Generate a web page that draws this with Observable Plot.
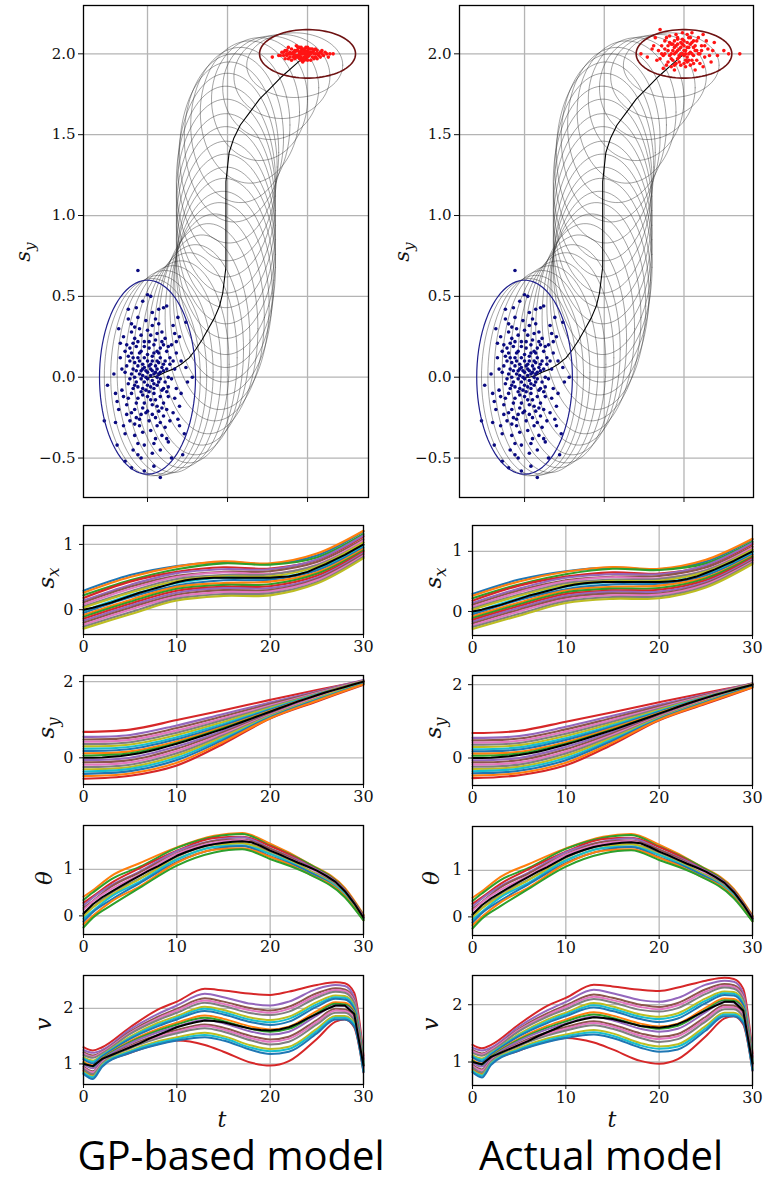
<!DOCTYPE html>
<html><head><meta charset="utf-8">
<script src="https://cdn.jsdelivr.net/npm/d3@7"></script>
<script src="https://cdn.jsdelivr.net/npm/@observablehq/plot@0.6"></script>
<style>
body{margin:0;background:#fff;}
#root{position:relative;width:771px;height:1182px;overflow:hidden;background:#fff;}
.lab{position:absolute;font-family:"DejaVu Serif","Liberation Serif",serif;font-style:italic;white-space:nowrap;line-height:1;color:#111;}
.lab span{font-size:0.72em;position:relative;top:0.3em;}
.cap{position:absolute;font-family:"Open Sans",sans-serif;font-size:40px;line-height:40px;white-space:nowrap;color:#000;transform:translateX(-50%);}
</style></head><body><div id="root"></div>
<script>
// ---------- data ----------
const tFull = d3.range(0, 31);
const sxMean = [0.00,0.03,0.07,0.11,0.16,0.21,0.26,0.30,0.34,0.38,0.42,0.45,0.47,0.48,0.49,0.49,0.49,0.49,0.49,0.49,0.49,0.50,0.51,0.54,0.58,0.64,0.70,0.77,0.84,0.92,1.00];
const syMean = [0.00,0.00,0.01,0.03,0.05,0.08,0.12,0.17,0.23,0.30,0.37,0.44,0.52,0.60,0.68,0.76,0.85,0.94,1.03,1.12,1.21,1.30,1.39,1.48,1.56,1.64,1.72,1.79,1.86,1.93,2.00];
const thetaMean = [0.05,0.25,0.40,0.52,0.64,0.75,0.86,0.97,1.07,1.18,1.29,1.37,1.44,1.50,1.54,1.57,1.59,1.60,1.58,1.50,1.40,1.32,1.23,1.14,1.06,0.97,0.86,0.73,0.53,0.27,-0.04];
const vMean = [1.00,0.96,1.09,1.16,1.23,1.30,1.37,1.45,1.52,1.59,1.66,1.71,1.75,1.78,1.77,1.75,1.71,1.67,1.63,1.61,1.60,1.62,1.66,1.73,1.82,1.90,1.98,2.05,2.05,1.90,0.97];
const ellRx = [0.30,0.30,0.30,0.30,0.30,0.30,0.30,0.30,0.30,0.31,0.31,0.31,0.31,0.31,0.31,0.31,0.31,0.31,0.31,0.31,0.31,0.31,0.31,0.31,0.31,0.31,0.30,0.30,0.30,0.30,0.30];
const ellRy = [0.60,0.61,0.62,0.63,0.64,0.64,0.65,0.65,0.65,0.65,0.64,0.64,0.63,0.63,0.62,0.62,0.61,0.61,0.60,0.60,0.59,0.58,0.56,0.52,0.48,0.44,0.38,0.32,0.26,0.20,0.15];

const startPts = [[-0.06,0.66],[-0.27,-0.27],[0.08,-0.62],[0.28,0.0],[-0.25,-0.05],[0.22,-0.48],[-0.19,-0.42],[0.24,0.34],[0.0,0.51],[0.02,0.50],[-0.03,0.47],[0.1,0.43],[0.12,0.44],[0.07,0.42],[-0.12,0.36],[-0.1,0.33],[0.19,0.37],[0.17,0.27],[0.2,0.25],[-0.17,0.12],[-0.2,-0.1],[-0.21,0.02],[0.24,0.06],[0.25,-0.03],[0.21,-0.1],[0.2,-0.3],[0.23,-0.35],[-0.14,-0.52],[-0.1,-0.56],[-0.02,-0.58],[0.04,-0.55],[0.15,-0.5],[-0.06,-0.48],[0.13,-0.4],[-0.15,-0.3],[-0.18,-0.2],[0.16,-0.22],
[-0.1,0.28],[-0.08,0.24],[-0.05,0.3],[0.03,0.32],[0.06,0.27],[0.09,0.22],[-0.13,0.2],[-0.07,0.19],[-0.02,0.22],[0.01,0.18],[0.04,0.15],[0.08,0.12],[0.12,0.16],[0.14,0.08],[-0.11,0.1],[-0.06,0.12],[-0.03,0.08],[0.0,0.1],[0.02,0.05],[0.05,0.07],[0.07,0.02],[0.1,0.04],[-0.14,0.03],[-0.09,0.05],[-0.05,0.02],[-0.01,0.0],[0.03,-0.02],[0.06,-0.05],[0.11,-0.03],[0.15,-0.01],[-0.12,-0.04],[-0.07,-0.03],[-0.03,-0.07],[0.0,-0.05],[0.04,-0.1],[0.09,-0.08],[0.13,-0.12],[-0.1,-0.1],[-0.06,-0.13],[-0.02,-0.16],[0.02,-0.14],[0.06,-0.18],[0.1,-0.16],[-0.13,-0.17],[-0.08,-0.2],[-0.04,-0.23],[0.0,-0.21],[0.05,-0.25],[0.08,-0.28],[-0.11,-0.27],[-0.05,-0.3],[0.02,-0.33],[0.11,-0.31],[-0.08,-0.36],[0.05,-0.38],[-0.02,-0.42],[0.08,-0.45],[0.0,0.03],[0.01,0.07],[-0.02,0.12],[0.03,0.1],[0.06,0.0],[-0.04,-0.01],[0.01,-0.09],[-0.08,0.0],[0.04,0.2],[-0.04,0.16],[0.08,0.18],[-0.1,0.15],[0.11,0.1],[0.02,0.26],[-0.06,0.37],[0.05,0.36],[0.15,0.2],[-0.15,0.25],[0.17,0.05],[0.18,-0.07],[-0.16,-0.08],[0.14,-0.27],[-0.12,0.42],[0.09,-0.36],[-0.04,-0.5],[0.03,-0.47],[0.06,0.05],[-0.01,0.04],[0.04,-0.04],[-0.06,0.07],[0.07,0.09],[-0.03,-0.11],[0.09,0.28],[-0.09,-0.45],[0.12,-0.2],[0.18,0.15],[-0.18,0.3],[0.16,0.32],[-0.14,0.16],[0.2,-0.18],[-0.2,-0.28],[0.13,0.0],[-0.07,-0.25],
[-0.09,0.21],[-0.04,0.26],[0.0,0.29],[0.05,0.23],[0.1,0.2],[-0.12,0.13],[-0.08,0.09],[-0.05,0.15],[0.0,0.14],[0.03,0.13],[0.07,0.15],[0.1,0.08],[-0.13,0.07],[-0.1,0.02],[-0.07,0.04],[-0.03,0.05],[0.02,0.01],[0.05,0.03],[0.08,-0.01],[0.12,0.05],[-0.11,-0.01],[-0.06,-0.06],[-0.02,-0.03],[0.02,-0.06],[0.07,-0.03],[0.1,-0.07],[-0.09,-0.07],[-0.04,-0.09],[0.0,-0.12],[0.04,-0.07],[0.08,-0.12],[-0.12,-0.13],[-0.07,-0.16],[-0.03,-0.19],[0.03,-0.17],[0.07,-0.21],[-0.1,-0.22],[-0.05,-0.26],[0.01,-0.27],[0.06,-0.3],[-0.03,-0.34],[0.04,-0.41],[-0.06,-0.41],[0.1,-0.24],[0.13,-0.06],[0.14,0.12],[0.11,0.24],[-0.01,0.35],[-0.08,0.31],[0.07,0.33],[0.03,0.4],[-0.07,0.43],[-0.16,0.05],[-0.15,-0.12],[-0.13,-0.23],[0.17,-0.13],[0.16,0.1],[-0.02,0.19],[0.01,0.22],[-0.05,0.1],[0.04,0.02],[-0.03,0.01],[0.09,0.06],[-0.08,-0.05],[0.05,-0.14],[-0.01,-0.08],[0.06,0.1],[-0.06,0.22],[0.12,-0.09],[0.02,0.08],[-0.04,0.04],[0.0,-0.01],[0.03,0.04],[-0.02,0.06],[0.08,0.03],[-0.09,0.12],[0.06,0.16],[-0.11,0.18],[0.13,0.19],[-0.01,-0.22],[0.09,-0.19],[-0.08,-0.29],[0.03,-0.23],[-0.14,-0.35],[0.12,-0.38],[0.18,0.22],[-0.17,0.21],[0.21,0.1],[-0.19,-0.15],[0.19,-0.26]];

const endPtsGP = [[0.78,1.98],[0.82,1.99],[0.84,2.01],[0.86,1.97],[0.87,2.02],[0.88,2.0],[0.89,1.98],[0.9,2.03],[0.91,2.0],[0.92,1.97],[0.93,2.02],[0.94,1.99],[0.95,2.01],[0.96,1.98],[0.97,2.03],[0.98,2.0],[0.99,1.97],[1.0,2.02],[1.01,1.99],[1.02,2.01],[1.03,1.98],[1.04,2.02],[1.05,2.0],[1.06,1.97],[1.08,2.01],[1.1,1.99],[1.12,2.0],[1.16,2.0],[0.85,1.99],[0.88,2.04],[0.9,1.96],[0.92,2.01],[0.93,1.99],[0.95,2.04],[0.96,1.96],[0.97,2.0],[0.98,2.02],[0.99,2.04],[1.0,1.98],[1.01,2.01],[1.02,1.96],[1.03,2.03],[1.05,2.03],[1.07,1.99],[1.09,2.02],[0.91,1.98],[0.94,2.02],[0.96,2.02],[0.98,1.98],[1.0,2.0],[0.93,2.05],[0.97,1.95],[1.04,1.97],[0.89,2.01],[0.95,1.99],[1.06,2.02],[0.87,1.99],[1.11,2.01],[0.86,2.02],[1.13,1.98],
[0.9,2.0],[0.92,2.02],[0.94,1.98],[0.96,2.0],[0.98,2.03],[1.0,1.96],[1.02,2.0],[1.04,2.0],[0.91,2.01],[0.93,1.98],[0.95,2.0],[0.97,2.01],[0.99,1.99],[1.01,2.03],[1.03,2.01],[1.05,1.98],[0.89,2.0],[0.88,1.97],[0.87,2.0],[1.07,2.0],[1.08,1.98],[0.94,2.04],[0.96,2.04],[1.0,2.04],[0.92,1.99],[0.98,1.96],[1.06,2.0],[1.09,2.0],[0.85,2.01],[1.14,2.0],[0.83,1.99],[0.95,1.97],[1.02,2.03],[0.99,2.01],[0.97,1.97]];

const endPtsActual = [[0.73,2.0],[0.77,1.98],[0.8,2.03],[0.82,2.1],[0.83,1.96],[0.85,2.15],[0.86,2.05],[0.87,1.99],[0.88,2.08],[0.89,1.93],[0.9,2.02],[0.91,2.11],[0.92,1.97],[0.93,2.06],[0.94,1.9],[0.95,2.01],[0.96,2.09],[0.97,1.95],[0.98,2.04],[0.99,2.13],[1.0,1.99],[1.01,1.92],[1.02,2.07],[1.03,2.0],[1.04,2.1],[1.05,1.96],[1.06,2.04],[1.07,1.9],[1.08,2.08],[1.09,2.0],[1.1,1.94],[1.11,2.05],[1.12,2.12],[1.13,1.98],[1.15,2.03],[1.17,1.95],[1.19,2.07],[1.21,1.99],[1.25,2.02],[1.35,2.0],[1.28,2.0],[0.88,2.0],[0.9,1.95],[0.92,2.06],[0.94,2.0],[0.96,1.97],[0.97,2.03],[0.99,2.0],[1.0,2.05],[1.01,2.02],[1.02,1.98],[1.03,2.04],[1.04,2.01],[1.05,2.07],[1.06,1.99],[1.08,2.02],[0.93,2.02],[0.95,2.05],[0.98,1.93],[1.0,2.08],[1.02,1.95],[0.91,1.99],[1.07,2.05],[0.86,2.0],[1.1,2.0],[0.97,1.99],[0.99,2.06],[1.03,1.96],[0.95,2.12],[1.05,2.13],[0.87,1.91],[1.12,1.92],[1.14,2.08],[0.84,2.02],[1.18,2.02],[0.81,2.05],[0.96,2.02],[1.01,2.0],[0.94,2.08],[1.06,1.94],[1.09,2.1],[0.92,1.92],[0.89,2.1],
[0.9,2.05],[0.92,2.0],[0.94,2.04],[0.96,2.06],[0.98,2.0],[1.0,2.02],[1.02,2.04],[1.04,2.06],[1.06,2.08],[0.93,1.96],[0.97,1.98],[1.01,1.96],[1.05,2.0],[1.08,1.96],[0.99,2.09],[0.91,2.07],[1.03,2.1],[0.95,1.94],[1.11,2.02],[0.88,2.03],[1.0,1.94],[1.07,2.02],[0.96,2.1],[1.13,2.05],[0.85,1.97],[1.16,1.99],[0.94,1.93],[1.02,2.12],[0.98,2.07],[1.04,1.93]];

const sxKnotsT = [0,5,10,15,20,25,30];
const sxSamples = [
[0.29,0.53,0.67,0.73,0.70,0.83,1.20],[0.26,0.50,0.66,0.74,0.71,0.86,1.21],[0.22,0.45,0.62,0.71,0.69,0.80,1.16],
[0.18,0.43,0.58,0.65,0.63,0.76,1.12],[0.14,0.38,0.56,0.62,0.62,0.77,1.14],[0.11,0.35,0.52,0.58,0.59,0.73,1.08],
[0.08,0.32,0.50,0.57,0.55,0.69,1.06],[0.05,0.28,0.47,0.53,0.54,0.68,1.03],[0.03,0.26,0.44,0.51,0.51,0.66,1.03],
[-0.02,0.22,0.41,0.49,0.48,0.62,0.98],[-0.05,0.19,0.37,0.45,0.46,0.60,0.95],[-0.08,0.15,0.35,0.41,0.43,0.57,0.93],
[-0.11,0.12,0.32,0.38,0.39,0.55,0.91],[-0.14,0.09,0.29,0.35,0.36,0.52,0.89],[-0.17,0.06,0.26,0.33,0.33,0.49,0.87],
[-0.20,0.03,0.23,0.30,0.30,0.47,0.85],[-0.23,0.00,0.20,0.27,0.28,0.45,0.83],[-0.26,-0.04,0.17,0.24,0.25,0.42,0.81],
[-0.29,-0.07,0.14,0.21,0.22,0.40,0.79]];

const syKnotsT = [0,5,10,15,20,25,30];
const sySamples = [
[0.68,0.74,0.99,1.25,1.52,1.78,2.02],[0.55,0.60,0.85,1.15,1.45,1.74,2.04],[0.48,0.53,0.78,1.09,1.41,1.72,2.03],
[0.42,0.47,0.72,1.04,1.37,1.70,2.02],[0.36,0.41,0.66,0.99,1.34,1.68,2.01],[0.30,0.35,0.60,0.94,1.31,1.67,2.01],
[0.24,0.29,0.54,0.89,1.28,1.66,2.00],[0.18,0.23,0.49,0.85,1.26,1.65,2.00],[0.12,0.17,0.43,0.81,1.23,1.64,2.00],
[0.06,0.12,0.39,0.78,1.21,1.62,1.99],[-0.55,-0.47,-0.20,0.37,1.03,1.48,1.92],[-0.06,0.00,0.30,0.71,1.17,1.60,1.99],
[-0.12,-0.06,0.24,0.67,1.15,1.59,1.98],[-0.18,-0.12,0.18,0.63,1.13,1.58,1.98],[-0.24,-0.18,0.12,0.59,1.11,1.56,1.97],
[-0.30,-0.24,0.06,0.55,1.09,1.55,1.96],[-0.36,-0.29,0.00,0.51,1.07,1.53,1.95],[-0.42,-0.35,-0.06,0.47,1.06,1.52,1.94],
[-0.48,-0.41,-0.13,0.42,1.04,1.50,1.93]];

const thetaKnotsT = [0,1,3,6,10,14,17,20,24,28,30];
const thetaSamples = [
[0.41,0.55,0.86,1.13,1.47,1.72,1.78,1.55,1.14,0.60,0.03],[0.34,0.50,0.79,1.05,1.46,1.70,1.76,1.51,1.13,0.57,0.01],
[0.28,0.42,0.71,1.02,1.40,1.67,1.70,1.50,1.10,0.56,0.00],[0.22,0.39,0.66,0.95,1.39,1.62,1.69,1.45,1.09,0.55,-0.01],
[0.17,0.32,0.63,0.93,1.34,1.61,1.64,1.44,1.06,0.53,-0.02],[0.13,0.31,0.58,0.88,1.33,1.57,1.63,1.40,1.05,0.51,-0.03],
[0.03,0.19,0.50,0.80,1.27,1.53,1.56,1.38,1.00,0.49,-0.05],[-0.01,0.18,0.45,0.79,1.22,1.49,1.56,1.34,0.99,0.46,-0.06],
[-0.06,0.11,0.42,0.73,1.21,1.48,1.51,1.33,0.96,0.46,-0.07],[-0.12,0.08,0.35,0.70,1.16,1.43,1.50,1.28,0.96,0.43,-0.08],
[-0.18,0.00,0.31,0.63,1.14,1.42,1.45,1.27,0.92,0.43,-0.09],[-0.25,-0.04,0.23,0.60,1.08,1.36,1.43,1.22,0.91,0.40,-0.10]];

const vKnotsT = [0,1,2,5,8,10,13,15,18,20,22,25,27,28,29,30];
const vSamples = [
[1.30,1.24,1.30,1.66,1.98,2.12,2.35,2.32,2.26,2.24,2.30,2.42,2.47,2.45,2.28,1.15],
[1.25,1.20,1.25,1.62,1.90,2.05,2.26,2.20,2.08,2.05,2.12,2.35,2.42,2.40,2.20,1.10],
[1.21,1.15,1.22,1.58,1.85,1.99,2.18,2.12,2.00,1.96,2.03,2.27,2.36,2.34,2.15,1.08],
[1.19,1.13,1.21,1.56,1.82,1.96,2.14,2.08,1.96,1.92,1.99,2.23,2.33,2.31,2.13,1.07],
[1.16,1.11,1.19,1.54,1.79,1.92,2.10,2.04,1.91,1.88,1.94,2.19,2.30,2.28,2.10,1.05],
[1.12,1.06,1.16,1.49,1.74,1.86,2.03,1.97,1.83,1.79,1.85,2.11,2.23,2.22,2.04,1.03],
[1.10,1.04,1.15,1.47,1.71,1.83,1.99,1.93,1.79,1.75,1.81,2.07,2.20,2.19,2.02,1.02],
[1.08,1.01,1.13,1.45,1.68,1.80,1.95,1.89,1.75,1.70,1.76,2.03,2.17,2.16,1.99,1.00],
[1.04,0.97,1.10,1.41,1.63,1.74,1.87,1.81,1.67,1.62,1.67,1.95,2.11,2.10,1.94,0.98],
[1.02,0.95,1.09,1.39,1.60,1.71,1.83,1.77,1.63,1.58,1.63,1.91,2.08,2.07,1.92,0.97],
[0.88,0.80,0.98,1.20,1.36,1.42,1.34,1.22,1.02,0.97,1.05,1.45,1.76,1.80,1.66,0.85],
[0.99,0.92,1.07,1.37,1.57,1.67,1.79,1.73,1.58,1.53,1.58,1.87,2.05,2.04,1.89,0.95],
[0.95,0.87,1.04,1.33,1.52,1.61,1.71,1.65,1.50,1.44,1.49,1.79,1.99,1.98,1.84,0.93],
[0.93,0.85,1.03,1.31,1.49,1.58,1.68,1.62,1.46,1.40,1.45,1.75,1.96,1.95,1.81,0.92],
[0.91,0.82,1.01,1.28,1.46,1.55,1.64,1.58,1.42,1.35,1.40,1.71,1.92,1.92,1.78,0.90],
[0.86,0.78,0.98,1.24,1.41,1.48,1.56,1.50,1.33,1.27,1.31,1.63,1.86,1.86,1.73,0.88],
[0.84,0.76,0.97,1.22,1.38,1.45,1.52,1.46,1.29,1.23,1.27,1.59,1.83,1.83,1.71,0.87],
[0.82,0.73,0.95,1.20,1.35,1.42,1.48,1.42,1.25,1.18,1.22,1.55,1.80,1.80,1.68,0.85]];

const topXTicks = [0, 0.5, 1.0];
const topYTicks = [-0.5, 0.0, 0.5, 1.0, 1.5, 2.0];
const tTicks = [0, 10, 20, 30];

// ---------- drawing ----------
const root = document.getElementById("root");
const tab10 = d3.schemeCategory10;
const serif = "'DejaVu Serif', 'Liberation Serif', serif";
function place(el, left, top) {
  el.style.position = "absolute"; el.style.left = left + "px"; el.style.top = top + "px";
  el.style.maxWidth = "none"; el.style.background = "transparent";
  root.appendChild(el);
}
function label(html, x, y, size, rot) {
  const d = document.createElement("div");
  d.className = "lab"; d.innerHTML = html;
  d.style.left = x + "px"; d.style.top = y + "px"; d.style.fontSize = size + "px";
  d.style.transform = "translate(-50%,-50%)" + (rot ? " rotate(-90deg)" : "");
  root.appendChild(d);
}
function caption(text, x, y) {
  const d = document.createElement("div");
  d.className = "cap"; d.textContent = text;
  d.style.left = x + "px"; d.style.top = y + "px";
  root.appendChild(d);
}

const ellipseRows = [];
tFull.forEach((t, i) => {
  for (let k = 0; k <= 90; k++) {
    const a = 2 * Math.PI * k / 90;
    ellipseRows.push({t, x: sxMean[i] + ellRx[i] * Math.cos(a), y: syMean[i] + ellRy[i] * Math.sin(a)});
  }
});
const meanPath = tFull.map((t, i) => ({x: sxMean[i], y: syMean[i]}));

function topPlot(ml, mr, xDomain, endPts) {
  return Plot.plot({
    width: 380, height: 510, marginLeft: ml, marginRight: mr, marginTop: 5, marginBottom: 13,
    style: {background: "transparent", fontFamily: serif, fontSize: "15px", color: "#111"},
    x: {domain: xDomain, ticks: topXTicks, tickFormat: () => "", tickSize: 5, label: null},
    y: {domain: [-0.744, 2.299], ticks: topYTicks, tickFormat: d3.format(".1f"), tickSize: 5, tickPadding: 3, label: null},
    marks: [
      Plot.ruleX(topXTicks, {stroke: "#b4b4b4", strokeWidth: 1.3}),
      Plot.ruleY(topYTicks, {stroke: "#b4b4b4", strokeWidth: 1.3}),
      Plot.line(ellipseRows.filter(d => d.t > 0 && d.t < 30), {x: "x", y: "y", z: "t", stroke: "#333", strokeOpacity: 0.45, strokeWidth: 1}),
      Plot.line(meanPath, {x: "x", y: "y", stroke: "#000", strokeWidth: 1.1}),
      Plot.dot(startPts, {x: d => d[0], y: d => d[1], r: 1.8, fill: "#0a0a80", stroke: "none"}),
      Plot.dot(endPts, {x: d => d[0], y: d => d[1], r: 1.8, fill: "#ff1414", stroke: "none"}),
      Plot.line(ellipseRows.filter(d => d.t === 0), {x: "x", y: "y", stroke: "#1f1f8c", strokeWidth: 1.2}),
      Plot.line(ellipseRows.filter(d => d.t === 30), {x: "x", y: "y", stroke: "#6e1212", strokeWidth: 1.6}),
      Plot.frame({stroke: "#000", strokeWidth: 1.3})
    ]
  });
}

function tsPlot(o) {
  const marks = [
    Plot.ruleX(tTicks, {stroke: "#b8b8b8", strokeWidth: 1.3}),
    Plot.ruleY(o.yTicks, {stroke: "#b8b8b8", strokeWidth: 1.3})
  ];
  o.samples.forEach((s, j) => {
    marks.push(Plot.line(o.knotsT.map((t, i) => ({t, v: s[i]})), {
      x: "t", y: "v", stroke: tab10[(j + o.c0) % 10], strokeWidth: o.sw, curve: o.curve
    }));
  });
  marks.push(Plot.line(tFull.map((t, i) => ({t, v: o.mean[i]})), {x: "t", y: "v", stroke: "#000", strokeWidth: 2}));
  marks.push(Plot.frame({stroke: "#000", strokeWidth: 1.3}));
  return Plot.plot({
    width: 380, height: (o.bottom - o.top) + 10 + 26,
    marginLeft: o.ml, marginRight: o.mr, marginTop: 10, marginBottom: 26,
    style: {background: "transparent", fontFamily: serif, fontSize: "16px", color: "#111"},
    x: {domain: [0, 30], ticks: tTicks, tickSize: 4, tickPadding: 2, label: null},
    y: {domain: o.yDomain, ticks: o.yTicks, tickFormat: d3.format("d"), tickSize: 4, tickPadding: 6, label: null},
    marks
  });
}

const cols = [
  {left: 0, tml: 83, tmr: 12, xDom: [-0.40, 1.381], end: endPtsGP, ml: 83, mr: 17,
   frames: {sx: [525, 634, [-0.38, 1.29]], sy: [675, 784, [-0.70, 2.16]], th: [825, 934, [-0.40, 1.94]], v: [975, 1084, [0.63, 2.59]]},
   labX: 46, topLabX: 23, tX: 222, capX: 231, capText: "GP-based model"},
  {left: 385, tml: 74, tmr: 12, xDom: [-0.408, 1.436], end: endPtsActual, ml: 87, mr: 13,
   frames: {sx: [525, 635, [-0.40, 1.43]], sy: [675, 785, [-0.75, 2.25]], th: [826, 935, [-0.40, 1.94]], v: [975, 1085, [0.59, 2.51]]},
   labX: 433, topLabX: 402, tX: 612, capX: 601, capText: "Actual model"}
];

cols.forEach(c => {
  place(topPlot(c.tml, c.tmr, c.xDom, c.end), c.left, 0);
  const defs = [
    ["sx", sxKnotsT, sxSamples, sxMean, [0, 1], "catmull-rom", 0, 2.1],
    ["sy", syKnotsT, sySamples, syMean, [0, 2], "catmull-rom", 3, 2.1],
    ["th", thetaKnotsT, thetaSamples, thetaMean, [0, 1], "monotone-x", 1, 2.0],
    ["v", vKnotsT, vSamples, vMean, [1, 2], "monotone-x", 3, 2.0]
  ];
  defs.forEach(([key, kt, samp, mean, yt, curve, c0, sw]) => {
    const [top, bottom, dom] = c.frames[key];
    const p = tsPlot({ml: c.ml, mr: c.mr, top, bottom, yDomain: dom, yTicks: yt, knotsT: kt, samples: samp, mean, curve, c0, sw});
    place(p, c.left, top - 10);
  });
  label("s<span>y</span>", c.topLabX, 252, 21, true);
  label("s<span>x</span>", c.labX, 578, 23, true);
  label("s<span>y</span>", c.labX, 728, 23, true);
  label("θ", c.labX - 2, 878, 23, true);
  label("v", c.labX - 3, 1024, 23, true);
  label("t", c.tX, 1120, 22, false);
  caption(c.capText, c.capX, 1135);
});
</script></body></html>
